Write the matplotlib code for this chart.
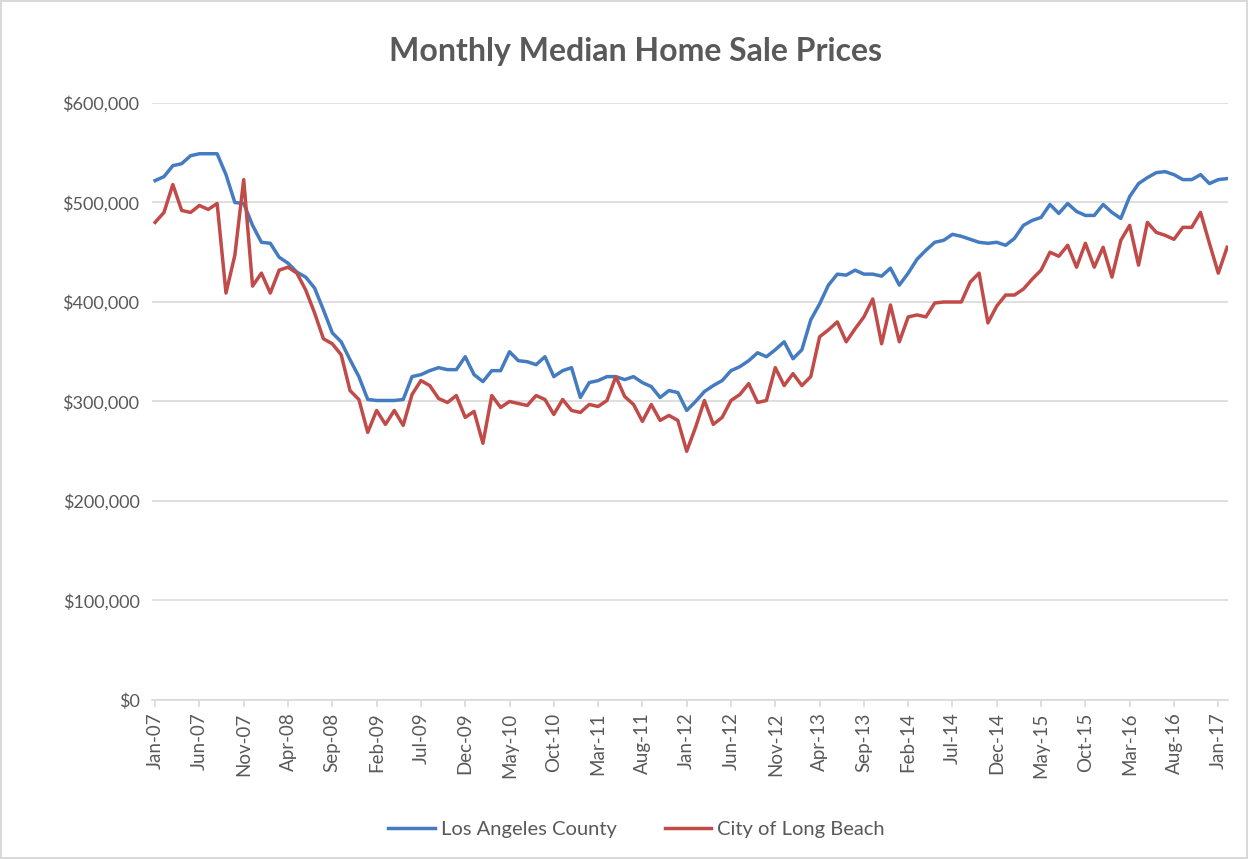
import matplotlib
matplotlib.use("Agg")
import matplotlib.pyplot as plt
import matplotlib.ticker as mticker
import numpy as np

plt.rcParams['font.family'] = ['Lato', 'DejaVu Sans']

# monthly medians, Jan-07 .. Feb-17 (in $1000s)
la_county = [522, 526, 537, 539, 547, 549, 549, 549, 528, 500,
             499, 477, 460, 459, 445, 439, 430, 425, 414, 392,
             369, 360, 342, 325, 302, 301, 301, 301, 302, 325,
             327, 331, 334, 332, 332, 345, 327, 320, 331, 331,
             350, 341, 340, 337, 345, 325, 331, 334, 304, 319,
             321, 325, 325, 322, 325, 319, 315, 304, 311, 309,
             291, 300, 310, 316, 321, 331, 335, 341, 349, 345,
             352, 360, 343, 352, 382, 398, 417, 428, 427, 432,
             428, 428, 426, 434, 417, 429, 443, 452, 460, 462,
             468, 466, 463, 460, 459, 460, 457, 464, 477, 482,
             485, 498, 489, 499, 491, 487, 487, 498, 490, 484,
             506, 519, 525, 530, 531, 528, 523, 523, 528, 519,
             523, 524]
long_beach = [480, 490, 518, 492, 490, 497, 493, 499, 409, 447,
              523, 416, 429, 409, 432, 435, 429, 412, 389, 363,
              358, 347, 311, 302, 269, 291, 277, 291, 276, 307,
              321, 316, 303, 299, 306, 284, 290, 258, 306, 294,
              300, 298, 296, 306, 302, 287, 302, 291, 289, 297,
              295, 301, 325, 305, 297, 280, 297, 281, 286, 281,
              250, 274, 301, 277, 284, 301, 307, 318, 299, 301,
              334, 316, 328, 316, 325, 365, 372, 380, 360, 373,
              385, 403, 358, 397, 360, 385, 387, 385, 399, 400,
              400, 400, 420, 429, 379, 396, 407, 407, 413, 423,
              432, 450, 446, 457, 435, 459, 435, 455, 425, 462,
              477, 437, 480, 470, 467, 463, 475, 475, 490, 459,
              429, 455]

tick_labels = ['Jan-07', 'Jun-07', 'Nov-07', 'Apr-08', 'Sep-08', 'Feb-09',
               'Jul-09', 'Dec-09', 'May-10', 'Oct-10', 'Mar-11', 'Aug-11',
               'Jan-12', 'Jun-12', 'Nov-12', 'Apr-13', 'Sep-13', 'Feb-14',
               'Jul-14', 'Dec-14', 'May-15', 'Oct-15', 'Mar-16', 'Aug-16',
               'Jan-17']

months = np.arange(len(la_county))
la = np.array(la_county) * 1000
lb = np.array(long_beach) * 1000

fig = plt.figure(figsize=(12.48, 8.59), dpi=100)
fig.patch.set_edgecolor('#d9d9d9')
fig.patch.set_linewidth(1.5)
ax = fig.add_axes([0.1218, 0.1851, 0.8622, 0.695])

ax.plot(months, la, color='#457BC0', lw=2.5, label='Los Angeles County',
        solid_joinstyle='round')
ax.plot(months, lb, color='#C04B48', lw=2.5, label='City of Long Beach',
        solid_joinstyle='round')

ax.set_ylim(0, 600000)
ax.set_xlim(-0.35, 121.1)
ax.yaxis.set_major_locator(mticker.MultipleLocator(100000))
ax.yaxis.set_major_formatter(mticker.FuncFormatter(lambda v, p: '${:,.0f}'.format(v)))
ax.grid(axis='y', color='#d9d9d9', lw=1.2)
ax.set_axisbelow(True)

ax.set_xticks(np.arange(0, len(la_county), 5))
ax.set_xticklabels(tick_labels, rotation=90)

for s in ['top', 'right', 'left']:
    ax.spines[s].set_visible(False)
ax.spines['bottom'].set_color('#d9d9d9')
ax.spines['bottom'].set_linewidth(1.2)
ax.tick_params(axis='y', length=0, pad=9, labelsize=13, labelcolor='#595959')
ax.tick_params(axis='x', length=5, color='#d9d9d9', width=1.2, pad=4,
               labelsize=13.5, labelcolor='#595959')

fig.suptitle('Monthly Median Home Sale Prices', x=0.509, y=0.957,
             fontsize=23, fontweight='bold', color='#595959')

fig.legend(loc='center', bbox_to_anchor=(0.51, 0.034), ncol=2, frameon=False,
           fontsize=14.5, labelcolor='#595959', handlelength=2.3,
           columnspacing=2.4, handletextpad=0.3)

fig.savefig('out.png', dpi=100)
